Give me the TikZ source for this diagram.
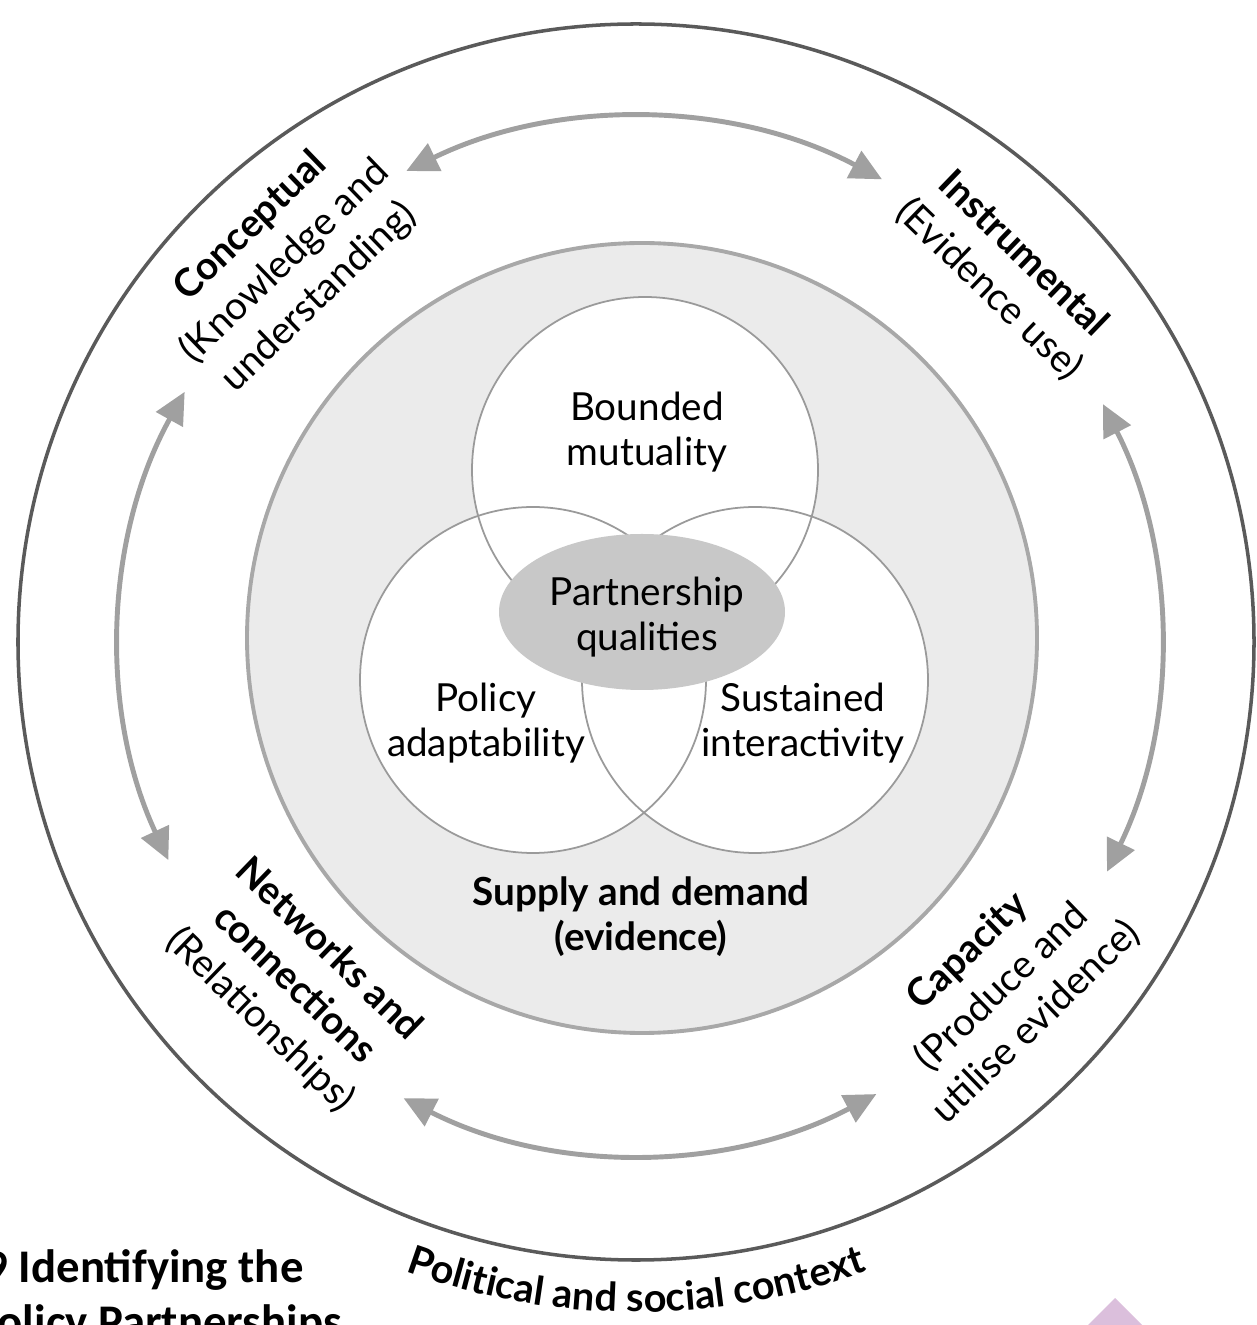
\documentclass[tikz,border=0pt]{standalone}
\usepackage{fontspec}
\setmainfont{Lato}
\newfontfamily\capfont{Carlito}
\usetikzlibrary{arrows.meta, decorations.text}
\definecolor{ringline}{HTML}{5A5A5A}
\definecolor{arrowgray}{HTML}{A0A0A0}
\definecolor{coreline}{HTML}{A8A8A8}
\definecolor{corefill}{HTML}{EBEBEB}
\definecolor{vennline}{HTML}{9A9A9A}
\definecolor{hubfill}{HTML}{C8C8C8}
\definecolor{tabpink}{HTML}{DBBFDC}
\tikzset{
  lbl/.style={font=\fontsize{11}{12.8}\selectfont, align=center, inner sep=0pt},
  head/.style={lbl, font=\fontsize{11}{12.8}\selectfont\bfseries},
  rim/.style={lbl, font=\fontsize{11}{14}\selectfont},
  twoway/.style={arrowgray, line width=1.4pt,
    {Triangle[length=9pt,width=8.5pt]}-{Triangle[length=9pt,width=8.5pt]}},
  capline/.style={anchor=base west, inner sep=0pt,
    font=\capfont\bfseries\fontsize{13.3}{15}\selectfont}
}
\begin{document}
\begin{tikzpicture}[x=0.01cm, y=0.01cm]
            \useasboundingbox (-636,-683) rectangle (620,642);
            \clip (-636,-683) rectangle (620,642);
            \coordinate (o) at (0, 0);
            \coordinate (core) at (6, 4);
            \coordinate (vt) at (9, 172);
            \coordinate (vl) at (-103, -38);
            \coordinate (vr) at (119, -38);
            \coordinate (hub) at (6, 30);
            \draw[ringline, line width=1pt](o)circle[radius=618];
            \draw[coreline, fill=corefill, line width=1.1pt](core)circle[radius=395];
            \foreach \c in {vt, vl, vr}
                \fill[white](\c)circle[radius=173];
            \foreach \c in {vt, vl, vr}
                \draw[vennline, line width=0.5pt](\c)circle[radius=173];
            \fill[hubfill](hub)ellipse[x radius=143, y radius=78];
            \node[lbl] (bm) at (11, 210) {Bounded\\mutuality};
            \node[lbl] (pq) at (11, 25) {Partnership\\qualities};
            \node[lbl] (pa) at (-150, -81) {Policy\\adaptability};
            \node[lbl] (si) at (167, -81) {Sustained\\interactivity};
            \node[head] (sd) at (5, -275) {Supply and demand\\(evidence)};
            \node[rim, rotate=44] (cc) at (-351, 380) {\textbf{Conceptual}\\(Knowledge and\\understanding)};
            \node[rim, rotate=-44] (ins) at (370, 370) {\textbf{Instrumental}\\(Evidence use)};
            \node[rim, rotate=-44] (net) at (-342, -343) {\textbf{Networks and}\\\textbf{connections}\\(Relationships)};
            \node[rim, rotate=44] (cap) at (366, -345) {\textbf{Capacity}\\(Produce and\\utilise evidence)};
            \coordinate (atop) at (116:524);
            \coordinate (aright) at (27:524);
            \coordinate (aleft) at (151:516);
            \coordinate (abot) at (243:512);
            \draw[twoway](atop)arc[start angle=116, end angle=62, radius=524];
            \draw[twoway](aright)arc[start angle=27, end angle=-26, radius=524];
            \draw[twoway](aleft)arc[start angle=151, end angle=205, radius=516];
            \draw[twoway](abot)arc[start angle=243, end angle=298, radius=512];
            \path[decorate, decoration={text along path, text align=center,
                text={|\fontsize{11.3}{14}\selectfont\bfseries|Political and social context}}]
                (230:670)arc[start angle=230, end angle=310, radius=670];
            \node[capline] (fig1) at (-652, -640) {9 Identifying the};
            \node[capline] (fig2) at (-663, -695) {Policy Partnerships};
            \fill[tabpink](479, -656)--(529, -706)--(429, -706)--cycle;
        \end{tikzpicture}
\end{document}
